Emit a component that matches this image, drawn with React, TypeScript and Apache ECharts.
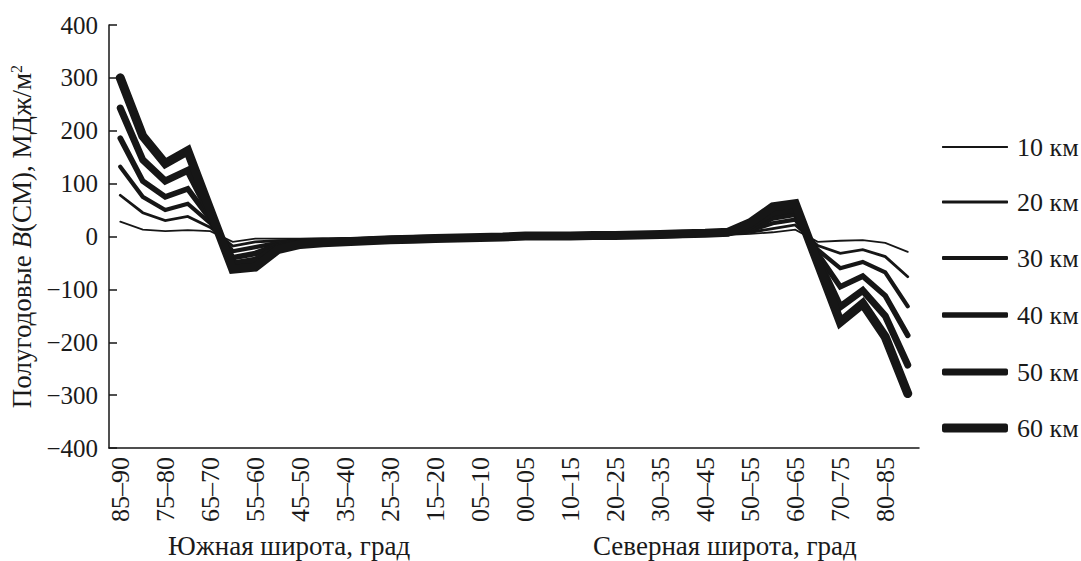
import React, { useEffect, useRef } from 'react';
import * as echarts from 'echarts';

// Latitude bands, southern hemisphere from the pole to the equator, then northern from the equator to the pole
const bandsSouth = ['85–90', '80–85', '75–80', '70–75', '65–70', '60–65', '55–60', '50–55', '45–50',
  '40–45', '35–40', '30–35', '25–30', '20–25', '15–20', '10–15', '05–10', '00–05'];
const bandsNorth = ['00–05', '05–10', '10–15', '15–20', '20–25', '25–30', '30–35', '35–40', '40–45',
  '45–50', '50–55', '55–60', '60–65', '65–70', '70–75', '75–80', '80–85', '85–90'];

// Half-year B(CM), MJ/m², per altitude layer (south bands, then north bands)
const layer10km = [28, 13, 10, 12, 10, -10, -4, -4, -4, -3, -3, -2, -2, -1, -1, -1, 0, 0,
  0, 0, 0, 1, 1, 1, 2, 2, 3, 3, 5, 8, 13, -10, -8, -7, -12, -29];
const layer20km = [78, 45, 30, 38, 17, -18, -10, -8, -7, -6, -5, -4, -3, -2, -2, -1, -1, 0,
  0, 0, 1, 1, 1, 2, 2, 3, 3, 4, 8, 15, 22, -17, -32, -25, -38, -76];
const layer30km = [132, 75, 50, 62, 25, -28, -20, -12, -9, -8, -6, -5, -4, -3, -2, -2, -1, 0,
  0, 0, 1, 1, 2, 2, 3, 3, 4, 5, 11, 25, 32, -25, -60, -48, -68, -132];
const layer40km = [186, 105, 75, 90, 33, -40, -32, -16, -11, -9, -7, -6, -5, -4, -3, -2, -1, -1,
  0, 1, 1, 1, 2, 2, 3, 4, 5, 6, 15, 35, 42, -33, -95, -75, -112, -187];
const layer50km = [243, 145, 105, 125, 42, -52, -45, -20, -13, -10, -8, -7, -5, -4, -3, -2, -2, -1,
  1, 1, 1, 2, 2, 3, 3, 4, 6, 7, 20, 45, 52, -42, -133, -102, -150, -243];
const layer60km = [300, 190, 138, 162, 50, -62, -58, -25, -15, -12, -10, -8, -6, -5, -4, -3, -2, -1,
  1, 1, 1, 2, 2, 3, 4, 5, 6, 8, 26, 56, 62, -50, -162, -127, -190, -297];

const layerNames = ['10 км', '20 км', '30 км', '40 км', '50 км', '60 км'];
const layerValues = [layer10km, layer20km, layer30km, layer40km, layer50km, layer60km];
const layerWidths = [1.8, 2.8, 4.2, 5.6, 7, 9];

const yTicks = { min: -400, max: 400, interval: 100 };

const FONT = '"Liberation Serif", "Times New Roman", serif';
const INK = '#161616';
const TEXT = '#1a1a1a';

export default function App() {
  const ref = useRef<HTMLDivElement>(null);

  useEffect(() => {
    document.body.style.margin = '0';
    if (!ref.current) return;
    const chart = echarts.init(ref.current, undefined, { renderer: 'svg' });

    const categories = [
      ...bandsSouth.map((b) => 'S|' + b),
      ...bandsNorth.map((b) => 'N|' + b),
    ];

    const legendTops = [134, 189, 245, 302, 359, 415];

    chart.setOption({
      animation: false,
      backgroundColor: '#ffffff',
      grid: { left: 109, right: 162, top: 25, bottom: 113, containLabel: false },
      xAxis: {
        type: 'category',
        data: categories,
        boundaryGap: true,
        axisLine: { show: true, onZero: false, lineStyle: { color: INK, width: 1.5 } },
        axisTick: { show: false },
        splitLine: { show: false },
        axisLabel: {
          interval: 1,
          rotate: 90,
          margin: 9,
          color: TEXT,
          fontFamily: FONT,
          fontSize: 26,
          formatter: (v: string) => v.split('|')[1],
        },
      },
      yAxis: {
        type: 'value',
        min: yTicks.min,
        max: yTicks.max,
        interval: yTicks.interval,
        name: 'Полугодовые {i|B}(СМ), МДж/м{s|2}',
        nameLocation: 'middle',
        nameRotate: 90,
        nameGap: 63,
        nameTextStyle: {
          color: TEXT,
          fontFamily: FONT,
          fontSize: 27,
          rich: {
            i: { fontStyle: 'italic', fontFamily: FONT, fontSize: 27, color: TEXT },
            s: { fontFamily: FONT, fontSize: 16, color: TEXT, verticalAlign: 'top' },
          },
        },
        axisLine: { show: true, lineStyle: { color: INK, width: 1.5 } },
        axisTick: { show: true, inside: true, length: 8, lineStyle: { color: INK, width: 1.5 } },
        splitLine: { show: false },
        axisLabel: {
          margin: 11,
          color: TEXT,
          fontFamily: FONT,
          fontSize: 25,
          formatter: (v: number) => String(v).replace('-', '−'),
        },
      },
      legend: layerNames.map((name, i) => ({
        data: [name],
        left: 942,
        top: legendTops[i],
        orient: 'vertical',
        padding: 0,
        itemWidth: 66,
        itemHeight: layerWidths[i],
        icon: 'roundRect',
        selectedMode: false,
        itemStyle: { color: INK, borderWidth: 0 },
        textStyle: { color: TEXT, fontFamily: FONT, fontSize: 26, padding: [0, 0, 0, 4] },
      })),
      graphic: [
        {
          type: 'text',
          x: 168,
          y: 546,
          style: {
            text: 'Южная широта, град',
            font: `27px ${FONT}`,
            fill: TEXT,
            verticalAlign: 'middle',
          },
        },
        {
          type: 'text',
          x: 593,
          y: 546,
          style: {
            text: 'Северная широта, град',
            font: `27px ${FONT}`,
            fill: TEXT,
            verticalAlign: 'middle',
          },
        },
      ],
      series: layerNames.map((name, i) => ({
        name,
        type: 'line',
        data: layerValues[i],
        symbol: 'none',
        smooth: false,
        z: 2 + i,
        lineStyle: { color: INK, width: layerWidths[i], cap: 'round', join: 'miter' },
        itemStyle: { color: INK },
        emphasis: { disabled: true },
      })),
    });

    return () => chart.dispose();
  }, []);

  return <div ref={ref} style={{ width: 1081, height: 561 }} />;
}
